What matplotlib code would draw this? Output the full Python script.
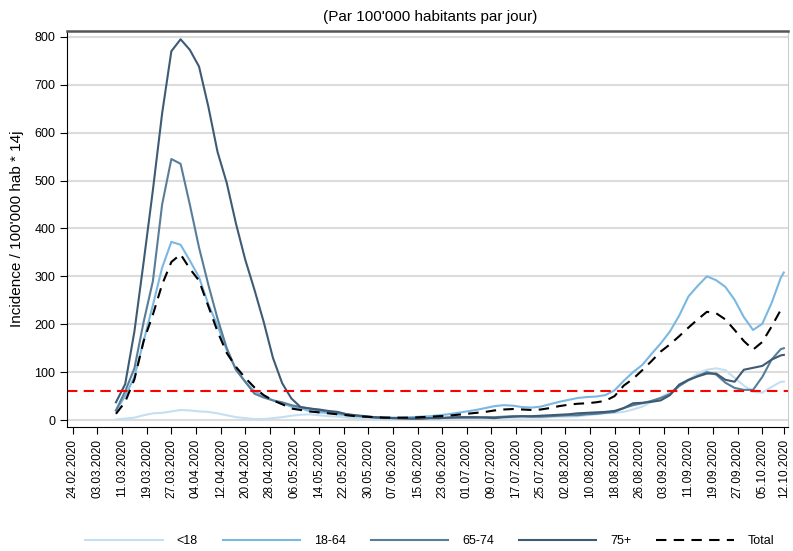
import numpy as np
import pandas as pd
import matplotlib
matplotlib.use("Agg")
import matplotlib.pyplot as plt
import matplotlib.dates as mdates

plt.rcParams['font.family'] = ['Liberation Sans', 'DejaVu Sans']

# every 3 days from 09.03 to 11.10, plus the last day 12.10
dates = list(pd.date_range('2020-03-09', '2020-10-11', freq='3D')) + [pd.Timestamp('2020-10-12')]

u18 = [1, 3, 5, 10, 14, 15, 18, 21, 20, 18,
       17, 14, 10, 6, 4, 2, 2, 4, 6, 9,
       11, 12, 10, 8, 7, 5, 4, 3, 3, 2,
       2, 2, 2, 3, 3, 3, 4, 4, 5, 5,
       5, 4, 4, 5, 5, 5, 5, 6, 7, 7,
       8, 10, 12, 14, 15, 17, 22, 28, 38, 47,
       58, 71, 84, 97, 105, 108, 104, 88, 72, 59,
       57, 69, 80, 80]

a18_64 = [20, 50, 90, 165, 240, 318, 372, 366, 333, 298,
          242, 197, 146, 105, 80, 60, 51, 41, 35, 28,
          25, 18, 16, 15, 12, 10, 8, 7, 6, 6,
          5, 5, 6, 7, 8, 10, 12, 15, 18, 21,
          25, 29, 31, 30, 27, 26, 28, 33, 38, 42,
          46, 48, 49, 52, 62, 82, 100, 115, 138, 160,
          185, 218, 258, 280, 300, 292, 278, 251, 215, 188,
          201, 244, 297, 308]

a65_74 = [20, 60, 108, 205, 290, 450, 545, 535, 450, 360,
          283, 212, 150, 105, 80, 55, 47, 41, 37, 31,
          27, 24, 20, 18, 15, 12, 9, 7, 5, 4,
          4, 3, 3, 3, 4, 4, 5, 5, 5, 5,
          6, 6, 7, 8, 8, 7, 7, 8, 9, 10,
          10, 12, 13, 15, 17, 25, 31, 35, 40, 46,
          54, 71, 83, 92, 100, 95, 78, 67, 63, 63,
          90, 126, 148, 150]

a75 = [37, 75, 185, 330, 480, 640, 770, 795, 773, 738,
       655, 560, 495, 410, 335, 272, 205, 130, 77, 45,
       27, 24, 22, 19, 17, 12, 10, 8, 6, 5,
       4, 4, 3, 3, 4, 4, 5, 6, 6, 6,
       5, 4, 6, 7, 8, 8, 9, 10, 11, 12,
       14, 15, 16, 17, 19, 25, 35, 36, 38, 41,
       52, 74, 84, 91, 97, 97, 84, 80, 105, 109,
       113, 126, 135, 136]

total = [13, 38, 85, 165, 220, 283, 330, 346, 316, 291,
         238, 185, 140, 111, 88, 68, 52, 41, 33, 24,
         21, 18, 16, 14, 12, 10, 8, 7, 6, 5,
         5, 5, 5, 6, 7, 8, 9, 11, 13, 15,
         17, 20, 22, 23, 22, 21, 22, 25, 29, 32,
         34, 35, 37, 40, 50, 72, 86, 104, 123, 143,
         158, 175, 193, 210, 226, 223, 210, 188, 165, 147,
         163, 195, 230, 237]

threshold = 60

tick_dates = list(pd.date_range('2020-02-24', periods=29, freq='8D')) + [pd.Timestamp('2020-10-12')]

fig = plt.figure(figsize=(7.93, 5.51), dpi=100)
ax = fig.add_axes([0.0845, 0.225, 0.909, 0.7185])

ax.plot(dates, u18, color='#c4dff1', lw=1.5, label='<18')
ax.plot(dates, a18_64, color='#7ab8e2', lw=1.5, label='18-64')
ax.plot(dates, a65_74, color='#587d98', lw=1.5, label='65-74')
ax.plot(dates, a75, color='#3d5b75', lw=1.5, label='75+')
ax.plot(dates, total, color='black', lw=1.5, dashes=(5, 3.5), label='Total')
ax.axhline(threshold, color='#ff0000', lw=1.5, dashes=(5, 3))

ax.set_xlim(mdates.date2num(pd.Timestamp('2020-02-24')) - 1.9,
            mdates.date2num(pd.Timestamp('2020-10-12')) + 1.3)
ax.set_ylim(-14.6, 812)
ax.set_yticks(range(0, 801, 100))
ax.set_xticks(tick_dates)
ax.set_xticklabels([d.strftime('%d.%m.%Y') for d in tick_dates])
ax.tick_params(axis='x', rotation=90, labelsize=8.5, length=5)
ax.tick_params(axis='y', labelsize=9, length=5)

ax.yaxis.grid(True, color='#dcdcdc', lw=1.5)
ax.set_axisbelow(True)
ax.spines['top'].set_color('#555555')
ax.spines['top'].set_linewidth(1.8)
ax.spines['right'].set_color('#cccccc')
ax.spines['right'].set_linewidth(0.8)

ax.set_ylabel("Incidence / 100'000 hab * 14j", fontsize=11)
ax.yaxis.set_label_coords(-0.06, 0.5)
fig.text(0.542, 0.969, "(Par 100'000 habitants par jour)", fontsize=11, ha='center', va='center')

handles, labels = ax.get_legend_handles_labels()
fig.legend(handles, labels, loc='center', bbox_to_anchor=(0.542, 0.018), ncol=5, frameon=False,
           fontsize=9, handlelength=6.2, handletextpad=1.1, columnspacing=2.0)

fig.savefig('out.png', dpi=100)
